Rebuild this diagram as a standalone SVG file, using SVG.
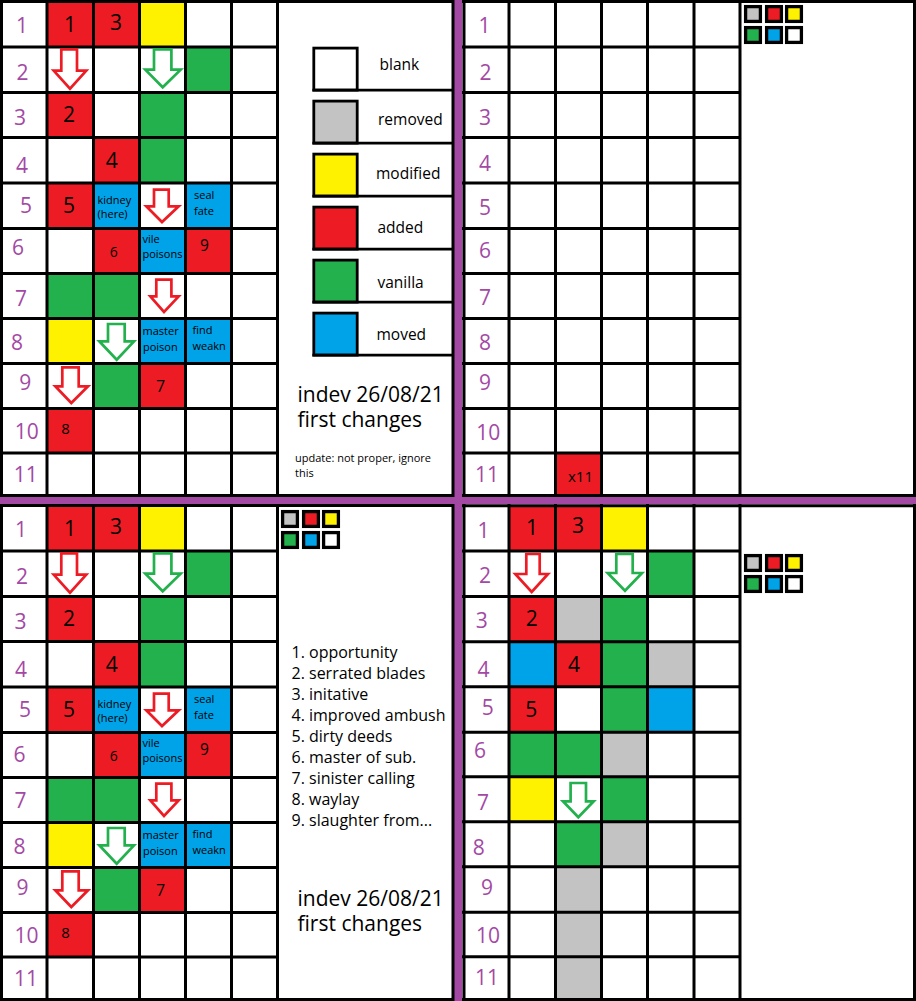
<svg xmlns="http://www.w3.org/2000/svg" width="916" height="1001" viewBox="0 0 916 1001">
<style>
.ln{stroke:#000;stroke-width:3;fill:none}
.r{fill:#ed1c24}.g{fill:#22b14c}.y{fill:#fff200}.b{fill:#00a2e8}.k{fill:#c3c3c3}.w{fill:#fff}
.lab{font-family:'Open Sans','Liberation Sans',sans-serif;font-size:21px;fill:#a349a4;text-anchor:middle}
.num{font-family:'Open Sans','Liberation Sans',sans-serif;font-size:21px;fill:#000;text-anchor:middle}
.sm{font-family:'Open Sans','Liberation Sans',sans-serif;font-size:11px;fill:#000}
.leg{font-family:'Open Sans','Liberation Sans',sans-serif;font-size:15.5px;fill:#000}
.big{font-family:'Open Sans','Liberation Sans',sans-serif;font-size:21px;fill:#000}
.lst{font-family:'Open Sans','Liberation Sans',sans-serif;font-size:16px;fill:#000}
.ar{fill:#fff;stroke:#ed1c24;stroke-width:2.7}
.ag{fill:#fff;stroke:#22b14c;stroke-width:2.7}
.mini{stroke:#000;stroke-width:3.3}
.lb{stroke:#000;stroke-width:2.8}
</style>
<rect width="916" height="1001" fill="#fff"/>
<rect x="454" y="0" width="8.3" height="1001" fill="#a349a4"/>
<rect x="0" y="497" width="916" height="7" fill="#a349a4"/>

<g id="top-left">
<g id="tl-cells">
<rect class="r" x="47" y="1.5" width="46.5" height="45.5"/>
<rect class="r" x="93.5" y="1.5" width="46" height="45.5"/>
<rect class="y" x="139.5" y="1.5" width="46" height="45.5"/>
<rect class="g" x="185.5" y="47" width="46" height="45.5"/>
<rect class="r" x="47" y="92.5" width="46.5" height="45"/>
<rect class="g" x="139.5" y="92.5" width="46" height="45"/>
<rect class="r" x="93.5" y="137.5" width="46" height="45.5"/>
<rect class="g" x="139.5" y="137.5" width="46" height="45.5"/>
<rect class="r" x="47" y="183" width="46.5" height="45.5"/>
<rect class="b" x="93.5" y="183" width="46" height="45.5"/>
<rect class="b" x="185.5" y="183" width="46" height="45.5"/>
<rect class="r" x="93.5" y="228.5" width="46" height="45"/>
<rect class="b" x="139.5" y="228.5" width="46" height="45"/>
<rect class="r" x="185.5" y="228.5" width="46" height="45"/>
<rect class="g" x="47" y="273.5" width="46.5" height="45"/>
<rect class="g" x="93.5" y="273.5" width="46" height="45"/>
<rect class="y" x="47" y="318.5" width="46.5" height="45"/>
<rect class="b" x="139.5" y="318.5" width="46" height="45"/>
<rect class="b" x="185.5" y="318.5" width="46" height="45"/>
<rect class="g" x="93.5" y="363.5" width="46" height="45"/>
<rect class="r" x="139.5" y="363.5" width="46" height="45"/>
<rect class="r" x="47" y="408.5" width="46.5" height="44.5"/>
</g>
<path class="ln" d="M1.5 0V497M47 0V496M93.5 0V496M139.5 0V496M185.5 0V496M231.5 0V496M277.5 0V496M453 0V497M0 1.5H454M0 47H277.5M0 92.5H277.5M0 137.5H277.5M0 183H277.5M0 228.5H277.5M0 273.5H277.5M0 318.5H277.5M0 363.5H277.5M0 408.5H277.5M0 453H277.5M0 495.5H454"/>
<g id="tl-arrows">
<path class="ar" d="M61.3 49.3H77V70.6H86.3L70 88.7L53.7 70.6H61.3Z"/>
<path class="ag" d="M154 49.3H171.4V69.6H180.7L162.7 87.3L145.3 69.6H154Z"/>
<path class="ar" d="M154 189.6H168.7V206.3H178.7L162 222L146.3 206.3H154Z"/>
<path class="ar" d="M156.3 279.6H171.4V296.3H178.7L164 312L150.3 296.3H156.3Z"/>
<path class="ag" d="M108 324H124.7V341.3H134L116.7 359.7L99.3 341.3H108Z"/>
<path class="ar" d="M62.3 367.3H78.7V386.3H88L71.3 403L55.3 386.3H62.3Z"/>
</g>
<g id="tl-rowlabels">
<text class="lab" x="22" y="33.3">1</text>
<text class="lab" x="22.5" y="80">2</text>
<text class="lab" x="20" y="125">3</text>
<text class="lab" x="22" y="173">4</text>
<text class="lab" x="26" y="213">5</text>
<text class="lab" x="18" y="255">6</text>
<text class="lab" x="21" y="306">7</text>
<text class="lab" x="17" y="350">8</text>
<text class="lab" x="25.3" y="390">9</text>
<text class="lab" x="26.7" y="439">10</text>
<text class="lab" x="25.7" y="481.7">11</text>
</g>
<g id="tl-celltext">
<text class="num" x="70" y="31.7">1</text>
<text class="num" x="116" y="30">3</text>
<text class="num" x="69" y="121.7">2</text>
<text class="num" x="111.7" y="168.3">4</text>
<text class="num" x="69" y="212.7">5</text>
<text class="num" x="113.7" y="256.7" style="font-size:14px">6</text>
<text class="num" x="204.5" y="250.7" style="font-size:15.5px">9</text>
<text class="num" x="160.7" y="391.7" style="font-size:16px">7</text>
<text class="num" x="65.5" y="434" style="font-size:15px">8</text>
<text class="sm" x="97.5" y="204">kidney</text>
<text class="sm" x="97.5" y="217.5">(here)</text>
<text class="sm" x="194" y="199">seal</text>
<text class="sm" x="194" y="215">fate</text>
<text class="sm" x="142.5" y="242.7">vile</text>
<text class="sm" x="142.5" y="257.7">poisons</text>
<text class="sm" x="142.5" y="335">master</text>
<text class="sm" x="143" y="350.5">poison</text>
<text class="sm" x="192.5" y="334.3">find</text>
<text class="sm" x="192.5" y="350">weakn</text>
</g>
<g id="legend">
<rect class="w lb" x="313.8" y="48.1" width="43.4" height="42"/>
<rect class="k lb" x="313.8" y="101.1" width="43.4" height="42"/>
<rect class="y lb" x="313.8" y="154.1" width="43.4" height="42"/>
<rect class="r lb" x="313.8" y="207.1" width="43.4" height="42"/>
<rect class="g lb" x="313.8" y="260.1" width="43.4" height="42"/>
<rect class="b lb" x="313.8" y="313.1" width="43.4" height="42"/>
<path class="lb" d="M312.4 90.1H452M312.4 143.1H452M312.4 196.1H452M312.4 249.1H452M312.4 302.1H452M312.4 355.1H452"/>
<text class="leg" x="379.5" y="70">blank</text>
<text class="leg" x="378" y="124.5">removed</text>
<text class="leg" x="376" y="179">modified</text>
<text class="leg" x="377.5" y="233">added</text>
<text class="leg" x="377.5" y="288">vanilla</text>
<text class="leg" x="376.5" y="340">moved</text>
<text class="big" x="297.5" y="401.5">indev 26/08/21</text>
<text class="big" x="297.5" y="427">first changes</text>
<text class="sm" x="295" y="462">update: not proper, ignore</text>
<text class="sm" x="295" y="476.5">this</text>
</g>
</g>

<g id="top-right">
<rect class="r" x="555.5" y="453" width="46" height="42.5"/>
<path class="ln" d="M464 0V497M509 0V496M555.5 0V496M601.5 0V496M647.5 0V496M694 0V496M740 0V496M914.5 0V497M462 1.5H916M462 47H740M462 92.5H740M462 137.5H740M462 183H740M462 228.5H740M462 273.5H740M462 318.5H740M462 363.5H740M462 408.5H740M462 453H740M462 495.5H916"/>
<text class="num" x="580.5" y="481.7" style="font-size:15px">x11</text>
<g id="tr-rowlabels">
<text class="lab" x="484.5" y="33.3">1</text>
<text class="lab" x="485.5" y="80">2</text>
<text class="lab" x="485" y="124.5">3</text>
<text class="lab" x="485" y="170.5">4</text>
<text class="lab" x="485" y="214.5">5</text>
<text class="lab" x="485" y="258">6</text>
<text class="lab" x="485" y="304.5">7</text>
<text class="lab" x="485" y="349.5">8</text>
<text class="lab" x="485" y="389.5">9</text>
<text class="lab" x="488.3" y="440">10</text>
<text class="lab" x="487" y="481.7">11</text>
</g>
<g id="tr-mini">
<rect class="k mini" x="745.6" y="6.6" width="14.8" height="14.8"/>
<rect class="r mini" x="766.6" y="6.6" width="14.8" height="14.8"/>
<rect class="y mini" x="786.6" y="6.6" width="14.8" height="14.8"/>
<rect class="g mini" x="745.6" y="27.6" width="14.8" height="14.8"/>
<rect class="b mini" x="766.6" y="27.6" width="14.8" height="14.8"/>
<rect class="w mini" x="786.6" y="27.6" width="14.8" height="14.8"/>
</g>
</g>

<g id="bottom-left">
<g transform="translate(0,504)">
<rect class="r" x="47" y="1.5" width="46.5" height="45.5"/>
<rect class="r" x="93.5" y="1.5" width="46" height="45.5"/>
<rect class="y" x="139.5" y="1.5" width="46" height="45.5"/>
<rect class="g" x="185.5" y="47" width="46" height="45.5"/>
<rect class="r" x="47" y="92.5" width="46.5" height="45"/>
<rect class="g" x="139.5" y="92.5" width="46" height="45"/>
<rect class="r" x="93.5" y="137.5" width="46" height="45.5"/>
<rect class="g" x="139.5" y="137.5" width="46" height="45.5"/>
<rect class="r" x="47" y="183" width="46.5" height="45.5"/>
<rect class="b" x="93.5" y="183" width="46" height="45.5"/>
<rect class="b" x="185.5" y="183" width="46" height="45.5"/>
<rect class="r" x="93.5" y="228.5" width="46" height="45"/>
<rect class="b" x="139.5" y="228.5" width="46" height="45"/>
<rect class="r" x="185.5" y="228.5" width="46" height="45"/>
<rect class="g" x="47" y="273.5" width="46.5" height="45"/>
<rect class="g" x="93.5" y="273.5" width="46" height="45"/>
<rect class="y" x="47" y="318.5" width="46.5" height="45"/>
<rect class="b" x="139.5" y="318.5" width="46" height="45"/>
<rect class="b" x="185.5" y="318.5" width="46" height="45"/>
<rect class="g" x="93.5" y="363.5" width="46" height="45"/>
<rect class="r" x="139.5" y="363.5" width="46" height="45"/>
<rect class="r" x="47" y="408.5" width="46.5" height="44.5"/>
<path class="ln" d="M1.5 0V497M47 0V496M93.5 0V496M139.5 0V496M185.5 0V496M231.5 0V496M277.5 0V496M453 0V497M0 1.5H454M0 47H277.5M0 92.5H277.5M0 137.5H277.5M0 183H277.5M0 228.5H277.5M0 273.5H277.5M0 318.5H277.5M0 363.5H277.5M0 408.5H277.5M0 453H277.5M0 495.5H454"/>
<path class="ar" d="M61.3 49.3H77V70.6H86.3L70 88.7L53.7 70.6H61.3Z"/>
<path class="ag" d="M154 49.3H171.4V69.6H180.7L162.7 87.3L145.3 69.6H154Z"/>
<path class="ar" d="M154 189.6H168.7V206.3H178.7L162 222L146.3 206.3H154Z"/>
<path class="ar" d="M156.3 279.6H171.4V296.3H178.7L164 312L150.3 296.3H156.3Z"/>
<path class="ag" d="M108 324H124.7V341.3H134L116.7 359.7L99.3 341.3H108Z"/>
<path class="ar" d="M62.3 367.3H78.7V386.3H88L71.3 403L55.3 386.3H62.3Z"/>
<text class="lab" x="21" y="33.3">1</text>
<text class="lab" x="22" y="80">2</text>
<text class="lab" x="20.5" y="125">3</text>
<text class="lab" x="21" y="173">4</text>
<text class="lab" x="25" y="213">5</text>
<text class="lab" x="19.5" y="258">6</text>
<text class="lab" x="20.5" y="304">7</text>
<text class="lab" x="19.5" y="350">8</text>
<text class="lab" x="22.5" y="391">9</text>
<text class="lab" x="26.5" y="439">10</text>
<text class="lab" x="26" y="481.7">11</text>
<text class="num" x="70" y="31.7">1</text>
<text class="num" x="116" y="30">3</text>
<text class="num" x="69" y="121.7">2</text>
<text class="num" x="111.7" y="168.3">4</text>
<text class="num" x="69" y="212.7">5</text>
<text class="num" x="113.7" y="256.7" style="font-size:14px">6</text>
<text class="num" x="204.5" y="250.7" style="font-size:15.5px">9</text>
<text class="num" x="160.7" y="391.7" style="font-size:16px">7</text>
<text class="num" x="65.5" y="434" style="font-size:15px">8</text>
<text class="sm" x="97.5" y="204">kidney</text>
<text class="sm" x="97.5" y="217.5">(here)</text>
<text class="sm" x="194" y="199">seal</text>
<text class="sm" x="194" y="215">fate</text>
<text class="sm" x="142.5" y="242.7">vile</text>
<text class="sm" x="142.5" y="257.7">poisons</text>
<text class="sm" x="142.5" y="335">master</text>
<text class="sm" x="143" y="350.5">poison</text>
<text class="sm" x="192.5" y="334.3">find</text>
<text class="sm" x="192.5" y="350">weakn</text>
<text class="big" x="297.5" y="401.5">indev 26/08/21</text>
<text class="big" x="297.5" y="427">first changes</text>
</g>
<g id="bl-mini">
<rect class="k mini" x="282.6" y="511.6" width="14.8" height="14.8"/>
<rect class="r mini" x="303.6" y="511.6" width="14.8" height="14.8"/>
<rect class="y mini" x="323.6" y="511.6" width="14.8" height="14.8"/>
<rect class="g mini" x="282.6" y="532.6" width="14.8" height="14.8"/>
<rect class="b mini" x="303.6" y="532.6" width="14.8" height="14.8"/>
<rect class="w mini" x="323.6" y="532.6" width="14.8" height="14.8"/>
</g>
<g id="bl-list">
<text class="lst" x="291.5" y="657.5">1. opportunity</text>
<text class="lst" x="291.5" y="678.5">2. serrated blades</text>
<text class="lst" x="291.5" y="699.5">3. initative</text>
<text class="lst" x="291.5" y="720.5">4. improved ambush</text>
<text class="lst" x="291.5" y="741.5">5. dirty deeds</text>
<text class="lst" x="291.5" y="762.5">6. master of sub.</text>
<text class="lst" x="291.5" y="783.5">7. sinister calling</text>
<text class="lst" x="291.5" y="804.5">8. waylay</text>
<text class="lst" x="291.5" y="825.5">9. slaughter from...</text>
</g>
</g>

<g id="bottom-right">
<g id="br-cells">
<rect class="r" x="509" y="505.7" width="46.5" height="45.3"/>
<rect class="r" x="555.5" y="505.7" width="46" height="45.3"/>
<rect class="y" x="601.5" y="505.7" width="46" height="45.3"/>
<rect class="g" x="647.5" y="551" width="46.5" height="45.5"/>
<rect class="r" x="509" y="596.5" width="46.5" height="45.3"/>
<rect class="k" x="555.5" y="596.5" width="46" height="45.3"/>
<rect class="g" x="601.5" y="596.5" width="46" height="45.3"/>
<rect class="b" x="509" y="641.8" width="46.5" height="45"/>
<rect class="r" x="555.5" y="641.8" width="46" height="45"/>
<rect class="g" x="601.5" y="641.8" width="46" height="45"/>
<rect class="k" x="647.5" y="641.8" width="46.5" height="45"/>
<rect class="r" x="509" y="686.8" width="46.5" height="45.4"/>
<rect class="g" x="601.5" y="686.8" width="46" height="45.4"/>
<rect class="b" x="647.5" y="686.8" width="46.5" height="45.4"/>
<rect class="g" x="509" y="732.2" width="46.5" height="44.6"/>
<rect class="g" x="555.5" y="732.2" width="46" height="44.6"/>
<rect class="k" x="601.5" y="732.2" width="46" height="44.6"/>
<rect class="y" x="509" y="776.8" width="46.5" height="45"/>
<rect class="g" x="601.5" y="776.8" width="46" height="45"/>
<rect class="g" x="555.5" y="821.8" width="46" height="45"/>
<rect class="k" x="601.5" y="821.8" width="46" height="45"/>
<rect class="k" x="555.5" y="866.8" width="46" height="45.4"/>
<rect class="k" x="555.5" y="912.2" width="46" height="44.6"/>
<rect class="k" x="555.5" y="956.8" width="46" height="42.7"/>
</g>
<path class="ln" d="M464 504V1001M509 504V1001M555.5 504V1001M601.5 504V1001M647.5 504V1001M694 504V1001M740 504V1001M914.5 504V1001M462 505.7H916M462 551H740M462 596.5H740M462 641.8H740M462 686.8H740M462 732.2H740M462 776.8H740M462 821.8H740M462 866.8H740M462 912.2H740M462 956.8H740M462 999.5H916"/>
<path class="ln" d="M0 999.5H454"/>
<g id="br-arrows">
<path class="ar" d="M526.3 554H539.7V574H548L531.7 592L515.3 574H526.3Z"/>
<path class="ag" d="M616.3 554H632.7V573H642L625 590.7L607.7 573H616.3Z"/>
<path class="ag" d="M570.6 783H586V801.3H593.7L578.3 817.3L563 801.3H570.6Z"/>
</g>
<g id="br-rowlabels">
<text class="lab" x="483.5" y="537.7">1</text>
<text class="lab" x="485" y="583">2</text>
<text class="lab" x="481.7" y="628">3</text>
<text class="lab" x="483.5" y="677">4</text>
<text class="lab" x="487.7" y="715">5</text>
<text class="lab" x="480" y="758">6</text>
<text class="lab" x="483" y="810">7</text>
<text class="lab" x="478.7" y="855">8</text>
<text class="lab" x="487" y="895">9</text>
<text class="lab" x="488" y="943">10</text>
<text class="lab" x="487" y="985">11</text>
</g>
<g id="br-celltext">
<text class="num" x="532" y="535">1</text>
<text class="num" x="578" y="533.3">3</text>
<text class="num" x="531.7" y="626">2</text>
<text class="num" x="574" y="671.7">4</text>
<text class="num" x="531.3" y="717">5</text>
</g>
<g id="br-mini">
<rect class="k mini" x="745.6" y="555.6" width="14.8" height="14.8"/>
<rect class="r mini" x="766.6" y="555.6" width="14.8" height="14.8"/>
<rect class="y mini" x="786.6" y="555.6" width="14.8" height="14.8"/>
<rect class="g mini" x="745.6" y="576.6" width="14.8" height="14.8"/>
<rect class="b mini" x="766.6" y="576.6" width="14.8" height="14.8"/>
<rect class="w mini" x="786.6" y="576.6" width="14.8" height="14.8"/>
</g>
</g>
</svg>
